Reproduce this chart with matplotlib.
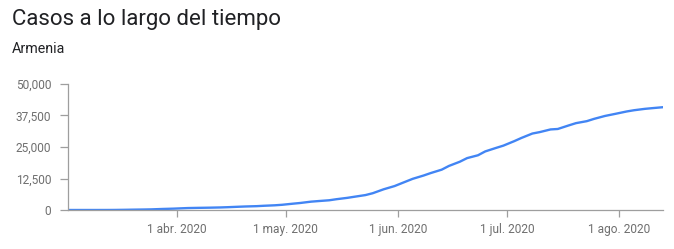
import matplotlib
matplotlib.use("Agg")
import matplotlib.pyplot as plt
import pandas as pd

# casos acumulados, Armenia 2020
fechas = ["2020-03-02", "2020-03-10", "2020-03-13", "2020-03-15", "2020-03-18", "2020-03-20",
          "2020-03-23", "2020-03-25", "2020-03-28", "2020-03-31", "2020-04-04", "2020-04-07",
          "2020-04-10", "2020-04-13", "2020-04-15", "2020-04-18", "2020-04-20", "2020-04-23",
          "2020-04-25", "2020-04-28", "2020-04-30", "2020-05-03", "2020-05-05", "2020-05-08",
          "2020-05-10", "2020-05-13", "2020-05-15", "2020-05-18", "2020-05-20", "2020-05-23",
          "2020-05-25", "2020-05-28", "2020-05-31", "2020-06-03", "2020-06-05", "2020-06-08",
          "2020-06-10", "2020-06-13", "2020-06-15", "2020-06-18", "2020-06-20", "2020-06-23",
          "2020-06-25", "2020-06-28", "2020-06-30", "2020-07-03", "2020-07-05", "2020-07-08",
          "2020-07-10", "2020-07-13", "2020-07-15", "2020-07-18", "2020-07-20", "2020-07-23",
          "2020-07-25", "2020-07-28", "2020-07-31", "2020-08-03", "2020-08-05", "2020-08-08",
          "2020-08-10", "2020-08-13"]
casos = [1, 1, 8, 26, 84, 136,
         194, 249, 407, 532, 770, 853,
         921, 1013, 1111, 1291, 1401, 1523,
         1677, 1867, 2066, 2507, 2782, 3313,
         3538, 3860, 4283, 4823, 5271, 5928,
         6661, 8216, 9492, 11221, 12364, 13675,
         14669, 16004, 17489, 19157, 20588, 21717,
         23247, 24645, 25542, 27320, 28606, 30346,
         30903, 31969, 32151, 33559, 34462, 35254,
         36162, 37317, 38196, 39102, 39586, 40138,
         40410, 40794]

y_ticks = [0, 12500, 25000, 37500, 50000]
x_ticks = ["2020-04-01", "2020-05-01", "2020-06-01", "2020-07-01", "2020-08-01"]
x_labels = ["1 abr. 2020", "1 may. 2020", "1 jun. 2020", "1 jul. 2020", "1 ago. 2020"]

plt.rcParams['font.family'] = ['Roboto', 'DejaVu Sans']

fechas = pd.to_datetime(fechas)

fig = plt.figure(figsize=(6.74, 2.49), dpi=100)
ax = fig.add_axes([68 / 674, 39 / 249, 595 / 674, 126 / 249])

ax.plot(fechas, casos, color='#4285f4', linewidth=1.7, solid_capstyle='round')

ax.set_xlim(fechas[0], fechas[-1])
ax.set_ylim(0, 50000)
ax.set_yticks(y_ticks)
ax.set_yticklabels([f"{v:,}" for v in y_ticks])
ax.set_xticks(pd.to_datetime(x_ticks))
ax.set_xticklabels(x_labels)

for s in ['top', 'right']:
    ax.spines[s].set_visible(False)
for s in ['left', 'bottom']:
    ax.spines[s].set_color('#9e9e9e')
    ax.spines[s].set_linewidth(0.9)

ax.tick_params(axis='y', length=6, width=0.9, color='#9e9e9e', pad=6,
               labelsize=8.6, labelcolor='#6f6f6f')
ax.tick_params(axis='x', length=5, width=0.9, color='#9e9e9e', pad=4,
               labelsize=8.6, labelcolor='#6f6f6f')

fig.text(12 / 674, 1 - 20 / 249, "Casos a lo largo del tiempo", fontsize=16,
         color='#202124', va='center', ha='left')
fig.text(12 / 674, 1 - 49 / 249, "Armenia", fontsize=10.3, color='#202124',
         va='center', ha='left')

fig.savefig("out.png", dpi=100)
